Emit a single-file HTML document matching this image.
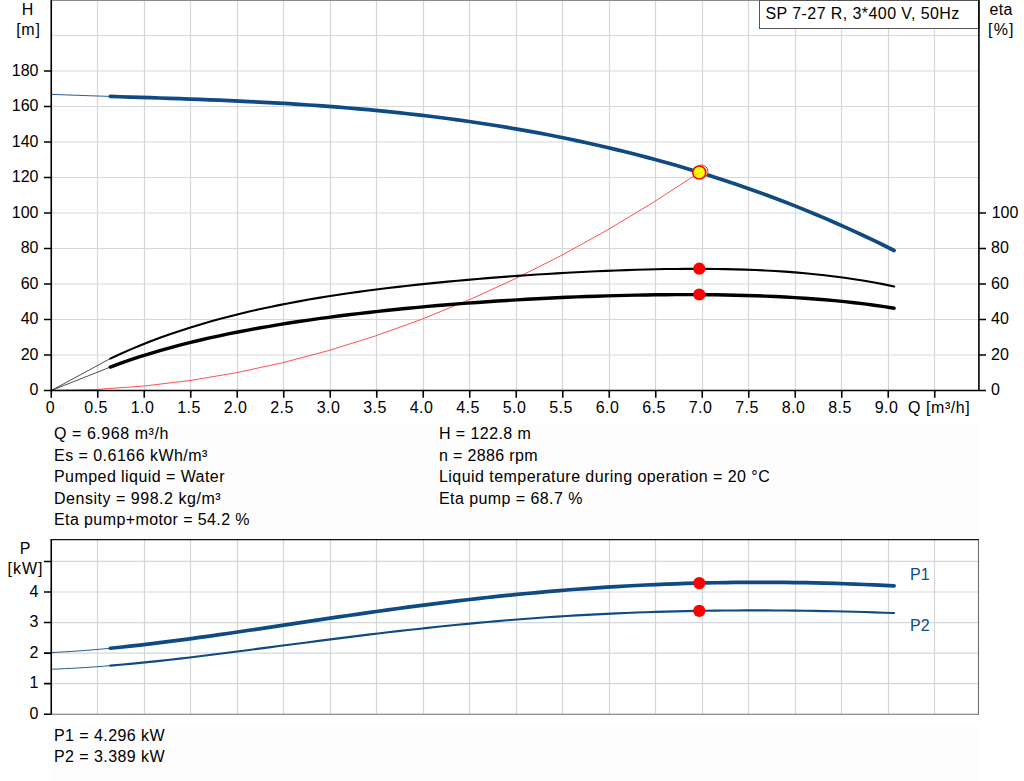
<!DOCTYPE html>
<html><head><meta charset="utf-8"><title>Pump curve</title>
<style>
html,body{margin:0;padding:0;background:#fff;}
body{width:1024px;height:781px;position:relative;overflow:hidden;font-family:"Liberation Sans",sans-serif;}
.t{position:absolute;font-family:"Liberation Sans",sans-serif;font-size:16px;line-height:1.149;white-space:nowrap;color:#000;}
</style></head><body>
<svg width="1024" height="781" viewBox="0 0 1024 781" style="position:absolute;left:0;top:0">
<rect width="1024" height="781" fill="#fff"/>
<rect x="51.5" y="423.5" width="927.5" height="116" fill="#fdfdfd"/><rect x="51.5" y="725.5" width="927.5" height="56" fill="#fdfdfd"/>
<path d="M97.5,0V390 M97.5,540V714 M144.5,0V390 M144.5,540V714 M190.5,0V390 M190.5,540V714 M237.5,0V390 M237.5,540V714 M283.5,0V390 M283.5,540V714 M330.5,0V390 M330.5,540V714 M376.5,0V390 M376.5,540V714 M423.5,0V390 M423.5,540V714 M469.5,0V390 M469.5,540V714 M516.5,0V390 M516.5,540V714 M562.5,0V390 M562.5,540V714 M609.5,0V390 M609.5,540V714 M655.5,0V390 M655.5,540V714 M702.5,0V390 M702.5,540V714 M748.5,0V390 M748.5,540V714 M795.5,0V390 M795.5,540V714 M841.5,0V390 M841.5,540V714 M888.5,0V390 M888.5,540V714 M934.5,0V390 M934.5,540V714 M52,355.0H978 M52,319.5H978 M52,284.0H978 M52,248.5H978 M52,213.0H978 M52,177.5H978 M52,142.0H978 M52,106.5H978 M52,71.0H978 M52,35.5H978 M52,683.6500000000001H978 M52,653.1H978 M52,622.5500000000001H978 M52,592.0H978 M52,561.45H978" stroke="#d5d7da" stroke-width="1.2" fill="none"/>
<path d="M51,0.5H979" stroke="#8a8a8a" stroke-width="1" fill="none"/>
<rect x="759.5" y="0.5" width="219.5" height="28" fill="#fff" stroke="#555" stroke-width="1"/>
<path d="M51.25,390.50 L97.54,389.39 L143.82,386.05 L190.11,380.49 L236.40,372.71 L282.69,362.70 L328.97,350.46 L375.26,336.01 L421.55,319.33 L467.84,300.42 L514.12,279.29 L560.41,255.94 L606.70,230.36 L652.99,202.56 L699.27,172.53" stroke="#ff3030" stroke-width="0.85" fill="none"/>
<path d="M51.25,390.5 L110.3,358.60 M51.25,390.5 L110.3,367.08" stroke="#222" stroke-width="0.8" fill="none"/>
<path d="M51.25,94.33 L57.81,94.59 L64.37,94.84 L70.93,95.08 L77.49,95.32 L84.06,95.55 L90.62,95.77 L97.18,95.99 L103.74,96.21 L110.30,96.42" stroke="#0f4a83" stroke-width="0.9" fill="none"/>
<path d="M51.25,652.54 L57.81,652.21 L64.37,651.85 L70.93,651.44 L77.49,651.00 L84.06,650.51 L90.62,650.00 L97.18,649.44 L103.74,648.86 L110.30,648.24 M51.25,669.24 L57.81,668.99 L64.37,668.70 L70.93,668.37 L77.49,668.00 L84.06,667.60 L90.62,667.16 L97.18,666.69 L103.74,666.19 L110.30,665.66" stroke="#0f4a83" stroke-width="0.9" fill="none"/>
<path d="M110.30,358.60 L120.22,354.01 L130.14,349.65 L140.06,345.51 L149.99,341.58 L159.91,337.84 L169.83,334.29 L179.75,330.92 L189.67,327.71 L199.59,324.67 L209.52,321.77 L219.44,319.02 L229.36,316.41 L239.28,313.92 L249.20,311.56 L259.12,309.31 L269.04,307.17 L278.97,305.14 L288.89,303.20 L298.81,301.35 L308.73,299.58 L318.65,297.90 L328.57,296.30 L338.49,294.77 L348.42,293.30 L358.34,291.90 L368.26,290.56 L378.18,289.28 L388.10,288.05 L398.02,286.87 L407.95,285.74 L417.87,284.66 L427.79,283.62 L437.71,282.62 L447.63,281.66 L457.55,280.73 L467.47,279.85 L477.40,278.99 L487.32,278.17 L497.24,277.39 L507.16,276.63 L517.08,275.91 L527.00,275.22 L536.93,274.56 L546.85,273.93 L556.77,273.33 L566.69,272.76 L576.61,272.23 L586.53,271.73 L596.45,271.26 L606.38,270.83 L616.30,270.44 L626.22,270.08 L636.14,269.76 L646.06,269.49 L655.98,269.26 L665.91,269.07 L675.83,268.94 L685.75,268.86 L695.67,268.83 L705.59,268.86 L715.51,268.95 L725.43,269.11 L735.36,269.34 L745.28,269.64 L755.20,270.02 L765.12,270.47 L775.04,271.02 L784.96,271.66 L794.88,272.39 L804.81,273.23 L814.73,274.18 L824.65,275.24 L834.57,276.42 L844.49,277.73 L854.41,279.18 L864.34,280.76 L874.26,282.50 L884.18,284.39 L894.10,286.45" stroke="#000" stroke-width="2.1" fill="none" stroke-linecap="round"/>
<path d="M110.30,367.08 L120.22,363.42 L130.14,359.96 L140.06,356.67 L149.99,353.57 L159.91,350.62 L169.83,347.82 L179.75,345.17 L189.67,342.65 L199.59,340.25 L209.52,337.96 L219.44,335.79 L229.36,333.71 L239.28,331.73 L249.20,329.84 L259.12,328.03 L269.04,326.30 L278.97,324.64 L288.89,323.05 L298.81,321.53 L308.73,320.07 L318.65,318.67 L328.57,317.32 L338.49,316.03 L348.42,314.79 L358.34,313.59 L368.26,312.44 L378.18,311.34 L388.10,310.28 L398.02,309.26 L407.95,308.28 L417.87,307.33 L427.79,306.43 L437.71,305.56 L447.63,304.72 L457.55,303.93 L467.47,303.16 L477.40,302.43 L487.32,301.73 L497.24,301.07 L507.16,300.43 L517.08,299.83 L527.00,299.27 L536.93,298.73 L546.85,298.22 L556.77,297.75 L566.69,297.31 L576.61,296.90 L586.53,296.52 L596.45,296.18 L606.38,295.87 L616.30,295.59 L626.22,295.34 L636.14,295.13 L646.06,294.96 L655.98,294.82 L665.91,294.72 L675.83,294.66 L685.75,294.63 L695.67,294.65 L705.59,294.71 L715.51,294.82 L725.43,294.97 L735.36,295.18 L745.28,295.43 L755.20,295.74 L765.12,296.11 L775.04,296.54 L784.96,297.03 L794.88,297.59 L804.81,298.23 L814.73,298.95 L824.65,299.75 L834.57,300.63 L844.49,301.62 L854.41,302.71 L864.34,303.91 L874.26,305.22 L884.18,306.66 L894.10,308.24" stroke="#000" stroke-width="3.4" fill="none" stroke-linecap="round"/>
<path d="M110.30,96.42 L120.22,96.74 L130.14,97.06 L140.06,97.37 L149.99,97.69 L159.91,98.02 L169.83,98.35 L179.75,98.69 L189.67,99.05 L199.59,99.42 L209.52,99.80 L219.44,100.21 L229.36,100.63 L239.28,101.08 L249.20,101.55 L259.12,102.04 L269.04,102.57 L278.97,103.12 L288.89,103.71 L298.81,104.33 L308.73,104.98 L318.65,105.67 L328.57,106.39 L338.49,107.16 L348.42,107.97 L358.34,108.81 L368.26,109.70 L378.18,110.64 L388.10,111.62 L398.02,112.65 L407.95,113.73 L417.87,114.85 L427.79,116.03 L437.71,117.26 L447.63,118.54 L457.55,119.88 L467.47,121.27 L477.40,122.72 L487.32,124.23 L497.24,125.79 L507.16,127.42 L517.08,129.11 L527.00,130.86 L536.93,132.67 L546.85,134.55 L556.77,136.49 L566.69,138.50 L576.61,140.58 L586.53,142.73 L596.45,144.95 L606.38,147.23 L616.30,149.59 L626.22,152.03 L636.14,154.54 L646.06,157.12 L655.98,159.78 L665.91,162.52 L675.83,165.34 L685.75,168.24 L695.67,171.23 L705.59,174.29 L715.51,177.44 L725.43,180.68 L735.36,184.01 L745.28,187.42 L755.20,190.93 L765.12,194.53 L775.04,198.22 L784.96,202.00 L794.88,205.89 L804.81,209.87 L814.73,213.96 L824.65,218.14 L834.57,222.43 L844.49,226.83 L854.41,231.34 L864.34,235.95 L874.26,240.68 L884.18,245.52 L894.10,250.48" stroke="#0f4a83" stroke-width="3.7" fill="none" stroke-linecap="round"/>
<path d="M110.30,648.24 L120.22,647.25 L130.14,646.19 L140.06,645.08 L149.99,643.92 L159.91,642.71 L169.83,641.45 L179.75,640.15 L189.67,638.82 L199.59,637.45 L209.52,636.06 L219.44,634.64 L229.36,633.21 L239.28,631.75 L249.20,630.28 L259.12,628.80 L269.04,627.32 L278.97,625.82 L288.89,624.33 L298.81,622.84 L308.73,621.35 L318.65,619.87 L328.57,618.40 L338.49,616.93 L348.42,615.48 L358.34,614.05 L368.26,612.63 L378.18,611.23 L388.10,609.85 L398.02,608.49 L407.95,607.16 L417.87,605.85 L427.79,604.57 L437.71,603.32 L447.63,602.09 L457.55,600.90 L467.47,599.74 L477.40,598.61 L487.32,597.51 L497.24,596.45 L507.16,595.42 L517.08,594.43 L527.00,593.47 L536.93,592.55 L546.85,591.67 L556.77,590.83 L566.69,590.02 L576.61,589.25 L586.53,588.53 L596.45,587.84 L606.38,587.19 L616.30,586.58 L626.22,586.02 L636.14,585.49 L646.06,585.00 L655.98,584.56 L665.91,584.15 L675.83,583.78 L685.75,583.46 L695.67,583.18 L705.59,582.93 L715.51,582.73 L725.43,582.57 L735.36,582.44 L745.28,582.36 L755.20,582.32 L765.12,582.32 L775.04,582.36 L784.96,582.44 L794.88,582.55 L804.81,582.71 L814.73,582.91 L824.65,583.15 L834.57,583.43 L844.49,583.75 L854.41,584.10 L864.34,584.50 L874.26,584.94 L884.18,585.42 L894.10,585.93" stroke="#0f4a83" stroke-width="3.7" fill="none" stroke-linecap="round"/>
<path d="M110.30,665.66 L120.22,664.80 L130.14,663.89 L140.06,662.92 L149.99,661.91 L159.91,660.84 L169.83,659.74 L179.75,658.60 L189.67,657.43 L199.59,656.23 L209.52,655.01 L219.44,653.77 L229.36,652.51 L239.28,651.23 L249.20,649.95 L259.12,648.65 L269.04,647.35 L278.97,646.05 L288.89,644.75 L298.81,643.46 L308.73,642.17 L318.65,640.88 L328.57,639.61 L338.49,638.35 L348.42,637.11 L358.34,635.88 L368.26,634.66 L378.18,633.47 L388.10,632.30 L398.02,631.15 L407.95,630.02 L417.87,628.92 L427.79,627.85 L437.71,626.80 L447.63,625.79 L457.55,624.80 L467.47,623.84 L477.40,622.91 L487.32,622.01 L497.24,621.15 L507.16,620.31 L517.08,619.51 L527.00,618.75 L536.93,618.01 L546.85,617.31 L556.77,616.65 L566.69,616.02 L576.61,615.42 L586.53,614.86 L596.45,614.33 L606.38,613.84 L616.30,613.38 L626.22,612.95 L636.14,612.56 L646.06,612.20 L655.98,611.88 L665.91,611.58 L675.83,611.33 L685.75,611.10 L695.67,610.90 L705.59,610.74 L715.51,610.61 L725.43,610.51 L735.36,610.44 L745.28,610.40 L755.20,610.38 L765.12,610.40 L775.04,610.45 L784.96,610.52 L794.88,610.62 L804.81,610.75 L814.73,610.91 L824.65,611.09 L834.57,611.30 L844.49,611.53 L854.41,611.79 L864.34,612.07 L874.26,612.38 L884.18,612.71 L894.10,613.06" stroke="#0f4a83" stroke-width="2.1" fill="none" stroke-linecap="round"/>
<path d="M51.25,0V390.5 M44,390.5H979.6 M978.9,0V391.2 M51.25,390.5V397.8 M97.75,390.5V397.8 M144.25,390.5V397.8 M190.75,390.5V397.8 M237.25,390.5V397.8 M283.75,390.5V397.8 M330.25,390.5V397.8 M376.75,390.5V397.8 M423.25,390.5V397.8 M469.75,390.5V397.8 M516.25,390.5V397.8 M562.75,390.5V397.8 M609.25,390.5V397.8 M655.75,390.5V397.8 M702.25,390.5V397.8 M748.75,390.5V397.8 M795.25,390.5V397.8 M841.75,390.5V397.8 M888.25,390.5V397.8 M934.75,390.5V397.8 M44,390.50H51.25 M44,355.00H51.25 M44,319.50H51.25 M44,284.00H51.25 M44,248.50H51.25 M44,213.00H51.25 M44,177.50H51.25 M44,142.00H51.25 M44,106.50H51.25 M44,71.00H51.25 M978.9,390.50H986 M978.9,355.00H986 M978.9,319.50H986 M978.9,284.00H986 M978.9,248.50H986 M978.9,213.00H986 M51.25,539.5V714.9 M44,714.20H51.25 M44,683.65H51.25 M44,653.10H51.25 M44,622.55H51.25 M44,592.00H51.25 M44,561.45H51.25" stroke="#000" stroke-width="1.6" fill="none"/>
<path d="M50.45,539.6H979" stroke="#111" stroke-width="1.1" fill="none"/>
<path d="M51.25,714.2H978.5V540" stroke="#6e6e6e" stroke-width="1.1" fill="none"/>
<circle cx="701.6" cy="171.3" r="6.3" fill="#fff" stroke="#ff2020" stroke-width="0.9"/>
<circle cx="699.27" cy="172.5" r="6.5" fill="#ffff00" stroke="#ff0000" stroke-width="1.6"/>
<path d="M694.27,175.7 L699.27,172.5" stroke="#ff8a00" stroke-width="0.9" opacity="0.7"/>
<circle cx="699.27" cy="268.7" r="6.1" fill="#ff0000"/>
<circle cx="699.27" cy="294.5" r="6.1" fill="#ff0000"/>
<circle cx="699.27" cy="583.1" r="6.1" fill="#ff0000"/>
<circle cx="699.27" cy="610.9" r="6.1" fill="#ff0000"/>
</svg>
<div class="t" style="top:381.26px;color:#000;right:985.5px;">0</div>
<div class="t" style="top:346.26px;color:#000;right:985.5px;">20</div>
<div class="t" style="top:310.26px;color:#000;right:985.5px;">40</div>
<div class="t" style="top:275.26px;color:#000;right:985.5px;">60</div>
<div class="t" style="top:239.26px;color:#000;right:985.5px;">80</div>
<div class="t" style="top:204.26px;color:#000;right:985.5px;">100</div>
<div class="t" style="top:168.26px;color:#000;right:985.5px;">120</div>
<div class="t" style="top:133.26px;color:#000;right:985.5px;">140</div>
<div class="t" style="top:97.26px;color:#000;right:985.5px;">160</div>
<div class="t" style="top:62.26px;color:#000;right:985.5px;">180</div>
<div class="t" style="top:381.26px;color:#000;left:991px;">0</div>
<div class="t" style="top:346.26px;color:#000;left:991px;">20</div>
<div class="t" style="top:310.26px;color:#000;left:991px;">40</div>
<div class="t" style="top:275.26px;color:#000;left:991px;">60</div>
<div class="t" style="top:239.26px;color:#000;left:991px;">80</div>
<div class="t" style="top:204.26px;color:#000;left:991.7px;">100</div>
<div class="t" style="top:399.26px;color:#000;left:-49.75px;width:200px;text-align:center;">0</div>
<div class="t" style="top:399.26px;color:#000;letter-spacing:0.45px;left:-3.950000000000003px;width:200px;text-align:center;">0.5</div>
<div class="t" style="top:399.26px;color:#000;letter-spacing:0.45px;left:42.55000000000001px;width:200px;text-align:center;">1.0</div>
<div class="t" style="top:399.26px;color:#000;letter-spacing:0.45px;left:89.05000000000001px;width:200px;text-align:center;">1.5</div>
<div class="t" style="top:399.26px;color:#000;letter-spacing:0.45px;left:135.55px;width:200px;text-align:center;">2.0</div>
<div class="t" style="top:399.26px;color:#000;letter-spacing:0.45px;left:182.05px;width:200px;text-align:center;">2.5</div>
<div class="t" style="top:399.26px;color:#000;letter-spacing:0.45px;left:228.55px;width:200px;text-align:center;">3.0</div>
<div class="t" style="top:399.26px;color:#000;letter-spacing:0.45px;left:275.05px;width:200px;text-align:center;">3.5</div>
<div class="t" style="top:399.26px;color:#000;letter-spacing:0.45px;left:321.55px;width:200px;text-align:center;">4.0</div>
<div class="t" style="top:399.26px;color:#000;letter-spacing:0.45px;left:368.05px;width:200px;text-align:center;">4.5</div>
<div class="t" style="top:399.26px;color:#000;letter-spacing:0.45px;left:414.54999999999995px;width:200px;text-align:center;">5.0</div>
<div class="t" style="top:399.26px;color:#000;letter-spacing:0.45px;left:461.04999999999995px;width:200px;text-align:center;">5.5</div>
<div class="t" style="top:399.26px;color:#000;letter-spacing:0.45px;left:507.54999999999995px;width:200px;text-align:center;">6.0</div>
<div class="t" style="top:399.26px;color:#000;letter-spacing:0.45px;left:554.05px;width:200px;text-align:center;">6.5</div>
<div class="t" style="top:399.26px;color:#000;letter-spacing:0.45px;left:600.55px;width:200px;text-align:center;">7.0</div>
<div class="t" style="top:399.26px;color:#000;letter-spacing:0.45px;left:647.05px;width:200px;text-align:center;">7.5</div>
<div class="t" style="top:399.26px;color:#000;letter-spacing:0.45px;left:693.55px;width:200px;text-align:center;">8.0</div>
<div class="t" style="top:399.26px;color:#000;letter-spacing:0.45px;left:740.05px;width:200px;text-align:center;">8.5</div>
<div class="t" style="top:399.26px;color:#000;letter-spacing:0.45px;left:786.55px;width:200px;text-align:center;">9.0</div>
<div class="t" style="top:399.26px;color:#000;letter-spacing:0.57px;left:908px;">Q [m³/h]</div>
<div class="t" style="top:1.06px;color:#000;left:-72.5px;width:200px;text-align:center;">H</div>
<div class="t" style="top:20.96px;color:#000;letter-spacing:0.75px;left:-71.6px;width:200px;text-align:center;">[m]</div>
<div class="t" style="top:0.76px;color:#000;letter-spacing:0.3px;left:901.2px;width:200px;text-align:center;">eta</div>
<div class="t" style="top:20.86px;color:#000;letter-spacing:1.2px;left:901.4px;width:200px;text-align:center;">[%]</div>
<div class="t" style="top:4.76px;color:#000;letter-spacing:0.42px;left:765.5px;">SP 7-27 R, 3*400 V, 50Hz</div>
<div class="t" style="top:425.26px;color:#000;letter-spacing:0.55px;left:54px;">Q = 6.968 m³/h</div>
<div class="t" style="top:447.26px;color:#000;letter-spacing:0.47px;left:54px;">Es = 0.6166 kWh/m³</div>
<div class="t" style="top:468.26px;color:#000;letter-spacing:0.44px;left:54px;">Pumped liquid = Water</div>
<div class="t" style="top:490.26px;color:#000;letter-spacing:0.525px;left:54px;">Density = 998.2 kg/m³</div>
<div class="t" style="top:511.26px;color:#000;letter-spacing:0.4px;left:54px;">Eta pump+motor = 54.2 %</div>
<div class="t" style="top:425.26px;color:#000;letter-spacing:0.43px;left:439px;">H = 122.8 m</div>
<div class="t" style="top:447.26px;color:#000;letter-spacing:0.34px;left:439px;">n = 2886 rpm</div>
<div class="t" style="top:468.26px;color:#000;letter-spacing:0.448px;left:439px;">Liquid temperature during operation = 20 °C</div>
<div class="t" style="top:490.26px;color:#000;letter-spacing:0.43px;left:439px;">Eta pump = 68.7 %</div>
<div class="t" style="top:726.86px;color:#000;letter-spacing:0.43px;left:54px;">P1 = 4.296 kW</div>
<div class="t" style="top:748.16px;color:#000;letter-spacing:0.43px;left:54px;">P2 = 3.389 kW</div>
<div class="t" style="top:539.86px;color:#000;left:-75px;width:200px;text-align:center;">P</div>
<div class="t" style="top:560.16px;color:#000;letter-spacing:1.0px;left:-74.5px;width:200px;text-align:center;">[kW]</div>
<div class="t" style="top:705.26px;color:#000;right:985.5px;">0</div>
<div class="t" style="top:674.26px;color:#000;right:985.5px;">1</div>
<div class="t" style="top:644.26px;color:#000;right:985.5px;">2</div>
<div class="t" style="top:613.26px;color:#000;right:985.5px;">3</div>
<div class="t" style="top:583.26px;color:#000;right:985.5px;">4</div>
<div class="t" style="top:566.26px;color:#0f4a83;left:910px;">P1</div>
<div class="t" style="top:616.86px;color:#0f4a83;left:910px;">P2</div>
</body></html>
